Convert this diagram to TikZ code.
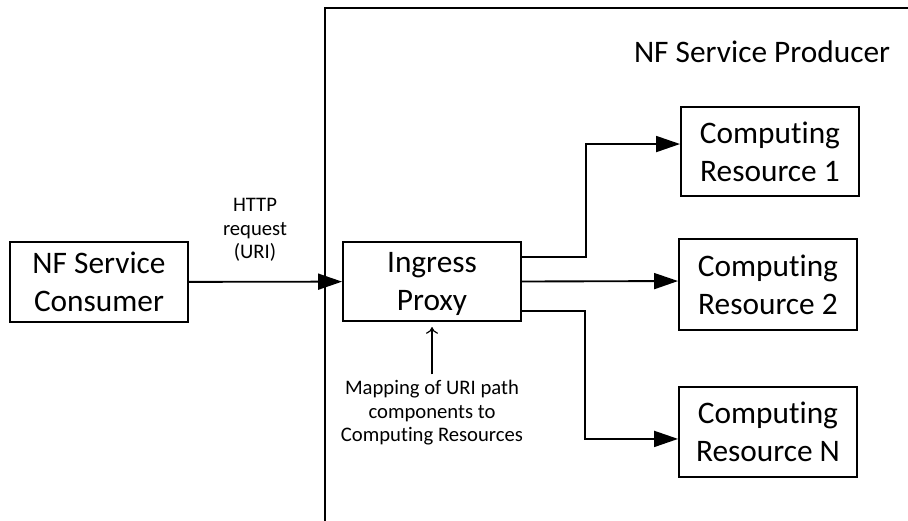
\documentclass[tikz,border=0pt]{standalone}
\usepackage{fontspec}
\setmainfont{Carlito}[Ligatures={NoCommon}]
\usetikzlibrary{arrows.meta}

\tikzset{
  box/.style={draw,line width=1.4pt,inner sep=0pt,align=center,
    minimum width=133.5pt,font=\fontsize{23.5}{28.5}\selectfont},
  note/.style={align=center,inner sep=0pt,font=\fontsize{15.5}{17.6}\selectfont},
  flow/.style={line width=1.4pt,-{Triangle[length=18pt,width=12pt]}}
}

\begin{document}
\begin{tikzpicture}[x=0.75pt,y=-0.75pt]
    \useasboundingbox (0,0) rectangle (908,521);

    % producer frame
    \draw[line width=1.4pt] (325,521) -- (325,8) -- (908,8);
    \node (prod) at (762,52) [inner sep=0pt,font=\fontsize{23.5}{28.5}\selectfont] {NF Service Producer};

    \node (cons) at (99,282) [box,minimum height=60pt] {NF Service\\Consumer};
    \node (ingr) at (432,281.5) [box,minimum height=59pt] {Ingress\\\raisebox{0pt}[\height][0pt]{Proxy}};

    \node (res1) at (770,151.5) [box,minimum height=67pt] {Computing\\Resource 1};
    \node (res2) at (768,284.5) [box,minimum height=68pt] {Computing\\Resource 2};
    \node (resn) at (768,432) [box,minimum height=68pt] {Computing\\Resource N};

    \node (http) at (255,230) [note] {HTTP\\request\\(URI)};
    \node (map) at (432,413) [note] {Mapping of URI path\\components to\\Computing Resources};

    \draw[flow] (cons) to (ingr);
    \draw[flow] ([yshift=18.4pt]ingr.east) -- ++(64,0) |- ([yshift=5.6pt]res1.west);
    \draw[flow] (ingr.east) to ([yshift=2.6pt]res2.west);
    \draw[flow] ([yshift=-22pt]ingr.east) -- ++(63,0) |- ([yshift=-5.2pt]resn.west);
    \draw[line width=0.9pt,-{To[length=5pt,width=9pt]}] (map.north) ++(0,-6) -- ([yshift=-4pt]ingr.south);
\end{tikzpicture}
\end{document}
